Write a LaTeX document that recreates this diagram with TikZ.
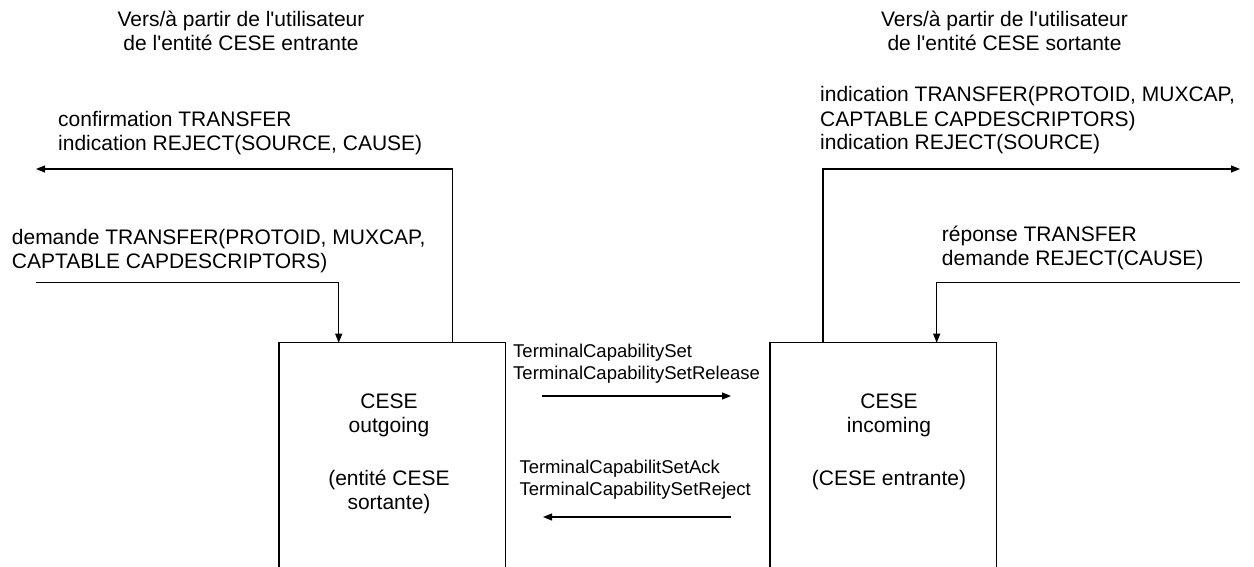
\documentclass[tikz,border=0pt]{standalone}
\usepackage{fontspec}
\setmainfont{Liberation Sans}
\usetikzlibrary{arrows.meta}
\newcommand{\apos}{\textquotesingle}
\begin{document}
\begin{tikzpicture}[x=1pt,y=-1pt,
  conn/.style={line width=1.2pt, line join=miter},
  arr/.style={conn, -{Triangle[length=9pt,width=7pt]}},
  entity/.style={draw, line width=1.2pt, inner sep=0pt, outer sep=0pt, anchor=north west, minimum width=226.7pt, minimum height=300pt},
  lbl/.style={inner sep=0pt, font=\fontsize{21}{24}\selectfont},
  small/.style={inner sep=0pt, font=\fontsize{18.5}{21.7}\selectfont}]
\useasboundingbox (0,0) rectangle (1254,567);
\clip (0,0) rectangle (1254,567);

% entities
\node[entity] (outbox) at (279,342.7) {};
\node[entity] (inbox) at (770,342.7) {};
\node[lbl, align=center, anchor=base] (outtxt) at (389,509) {CESE\\outgoing\\[29pt](entité CESE\\sortante)};
\node[lbl, align=center, anchor=base] (intxt) at (889,485) {CESE\\incoming\\[29pt](CESE entrante)};

% user headings
\node[lbl, align=center, anchor=base] (uleft) at (241,50.7) {Vers/à partir de l\apos utilisateur\\de l\apos entité CESE entrante};
\node[lbl, align=center, anchor=base] (uright) at (1004.5,50.7) {Vers/à partir de l\apos utilisateur\\de l\apos entité CESE sortante};

% left side primitives
\node[lbl, align=left, anchor=base west] (lconf) at (58,151) {confirmation TRANSFER\\indication REJECT(SOURCE, CAUSE)};
\node[lbl, align=left, anchor=base west] (lreq) at (11.7,268) {demande TRANSFER(PROTOID, MUXCAP,\\CAPTABLE CAPDESCRIPTORS)};
\coordinate (ofb) at (452.3,169);
\coordinate (oend) at (36,169);
\draw[arr] (outbox.north -| ofb) -- (ofb) -- (oend);
\coordinate (ostart) at (36,282.7);
\coordinate (ocorner) at (338.7,282.7);
\draw[arr] (ostart) -- (ocorner) -- (outbox.north -| ocorner);

% right side primitives
\node[lbl, align=left, anchor=base west] (rind) at (820,150) {indication TRANSFER(PROTOID, MUXCAP,\\CAPTABLE CAPDESCRIPTORS)\\indication REJECT(SOURCE)};
\node[lbl, align=left, anchor=base west] (rresp) at (941.7,265.5) {réponse TRANSFER\\demande REJECT(CAUSE)};
\coordinate (ifb) at (823,169);
\coordinate (iend) at (1240,169);
\draw[arr] (inbox.north -| ifb) -- (ifb) -- (iend);
\coordinate (istart) at (1240,282.7);
\coordinate (icorner) at (936.7,282.7);
\draw[arr] (istart) -- (icorner) -- (inbox.north -| icorner);

% messages between entities
\node[small, align=left, anchor=base west] (mset) at (513,379) {TerminalCapabilitySet\\TerminalCapabilitySetRelease};
\node[small, align=left, anchor=base west] (mack) at (519.3,495) {TerminalCapabilitSetAck\\TerminalCapabilitySetReject};
\coordinate (m1a) at (542,396);
\coordinate (m1b) at (731,396);
\draw[arr] (m1a) -- (m1b);
\coordinate (m2a) at (731,517);
\coordinate (m2b) at (543,517);
\draw[arr] (m2a) -- (m2b);
\end{tikzpicture}
\end{document}
